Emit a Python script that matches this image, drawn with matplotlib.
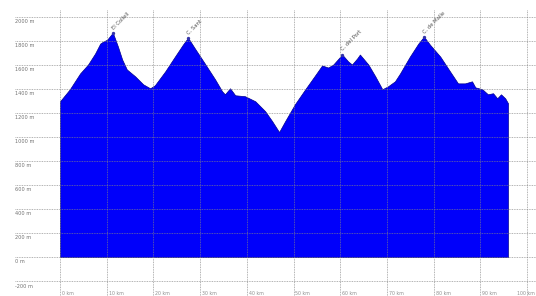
import matplotlib
matplotlib.use("Agg")
import matplotlib.pyplot as plt

dist_km = [0, 2.1, 4.3, 6.0, 7.5, 8.6, 9.2, 10.1, 11.3, 12.4, 13.3, 14.3, 16.1, 17.8, 19.3,
           20.3, 22.5, 24.6, 26.3, 27.4, 28.9, 31.0, 33.2, 34.7, 35.3, 36.4, 37.5, 39.6,
           41.8, 43.9, 45.4, 46.9, 48.2, 50.3, 52.5, 54.6, 56.1, 57.4, 58.5, 60.4, 61.7,
           62.5, 63.6, 64.2, 66.0, 67.5, 69.0, 70.2, 71.7, 72.8, 74.9, 76.7, 77.9, 79.2,
           81.4, 83.5, 85.2, 86.7, 88.2, 88.9, 90.4, 91.6, 92.7, 93.6, 94.4, 95.3, 95.9]
elev_m = [1297, 1397, 1529, 1603, 1694, 1777, 1793, 1810, 1868, 1752, 1645, 1562, 1504, 1438, 1405,
          1430, 1545, 1669, 1768, 1826, 1735, 1611, 1479, 1380, 1355, 1405, 1347, 1339,
          1297, 1215, 1132, 1041, 1132, 1273, 1397, 1512, 1595, 1578, 1603, 1686, 1628,
          1603, 1653, 1686, 1603, 1504, 1397, 1421, 1463, 1529, 1669, 1777, 1835, 1768,
          1669, 1545, 1446, 1446, 1463, 1413, 1397, 1355, 1364, 1322, 1355, 1322, 1281]

peak_names = ["El Collell", "C. Sant", "C. del Port", "C. de Malle"]
peak_km = [11.3, 27.4, 60.4, 77.9]
peak_elev = [1868, 1826, 1686, 1835]

y_ticks = [2000, 1800, 1600, 1400, 1200, 1000, 800, 600, 400, 200, 0, -200]
y_labels = ["2000 m", "1800 m", "1600 m", "1400 m", "1200 m", "1000 m", "800 m",
            "600 m", "400 m", "200 m", "0 m", "-200 m"]
x_ticks = [0, 10, 20, 30, 40, 50, 60, 70, 80, 90, 100]
x_labels = ["0 km", "10 km", "20 km", "30 km", "40 km", "50 km", "60 km", "70 km",
            "80 km", "90 km", "100 km"]

fig = plt.figure(figsize=(5.36, 2.96), dpi=100)
ax = fig.add_axes([0, 0, 1, 1])
ax.set_xlim(-12.85, 101.9)
ax.set_ylim(-324, 2140)
ax.axis("off")

ax.fill_between(dist_km, elev_m, 0, color="#0000fa", edgecolor="#000090", linewidth=0.5, zorder=2)

for yv in y_ticks:
    ax.plot([-9.6, 101.9], [yv, yv], color="#858585", lw=0.5, ls=(0, (1.2, 1.2)), zorder=3)
for xv in x_ticks:
    ax.plot([xv, xv], [2058, -324], color="#858585", lw=0.5, ls=(0, (1.2, 1.2)), zorder=3)

for yv, lab in zip(y_ticks, y_labels):
    ax.text(-9.6, yv - 20, lab, fontsize=3.6, color="#707070", ha="left", va="top", zorder=4)
for xv, lab in zip(x_ticks, x_labels):
    if xv == x_ticks[-1]:
        ax.text(101.7, -285, lab, fontsize=3.4, color="#909090", ha="right", va="top", zorder=4)
    else:
        ax.text(xv + 0.4, -285, lab, fontsize=3.4, color="#909090", ha="left", va="top", zorder=4)

for name, px, pe in zip(peak_names, peak_km, peak_elev):
    ax.plot([px], [pe], marker="o", ms=1.4, color="#3333aa", zorder=5)
    ax.text(px + 0.4, pe + 20, name, fontsize=3.8, color="#555555", rotation=45,
            rotation_mode="anchor", ha="left", va="bottom", zorder=5)

fig.savefig("out.png", dpi=100)
